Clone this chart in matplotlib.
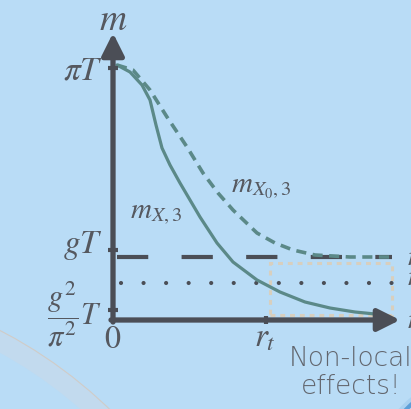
import matplotlib.pyplot as plt
from matplotlib.patches import Circle, Rectangle

plt.rcParams['mathtext.fontset'] = 'stix'

# schematic mass profiles m(r); origin of the axes at (0, 0)
r_x3 = [4, 17, 29, 37, 43, 49, 57, 67, 87, 104, 120, 144, 167, 192, 217, 242, 272]
m_x3 = [255, 248, 235, 220, 195, 172, 155, 137, 103, 77, 58, 40, 28, 18, 12, 8, 5]
r_x03 = [4, 20, 37, 54, 74, 90, 105, 120, 144, 162, 180, 202, 237, 279]
m_x03 = [255, 250, 230, 203, 173, 147, 127, 110, 87, 77, 70, 65, 63, 63]

# reference levels and tick positions
level_gT = 63
level_g2T = 37
tick_m = [252, 70, 10]
tick_labels = [r'$\pi T$', r'$gT$', r'$\dfrac{g^2}{\pi^2}T$']
r_t = 153
r_end = 279

bg = '#b9dcf6'
axis_col = '#4b4e56'
curve_col = '#5b8988'
text_col = '#55585f'

fig = plt.figure(figsize=(4.11, 4.09), dpi=100, facecolor=bg)
ax = fig.add_axes([0, 0, 1, 1])
ax.set_xlim(-113, 298)
ax.set_ylim(-89, 320)
ax.set_facecolor(bg)
ax.axis('off')

# faint ring in the lower left and blue ring in the lower right corner
ax.add_patch(Circle((-328, -425), 457, fill=False, lw=14, ec='#c2daee', zorder=0))
ax.add_patch(Circle((-328, -425), 467, fill=False, lw=0.8, ec='#d6c8bc', alpha=0.8, zorder=0))
ax.add_patch(Circle((357, -150), 92, fill=False, lw=2.5, ec='#a9d1f0', zorder=0))
ax.add_patch(Circle((357, -150), 88, fill=False, lw=3, ec='#5d9fd8', zorder=0))

# region of non-local effects
ax.add_patch(Rectangle((r_t + 4, 5), r_end - r_t - 4, 52, fill=False, lw=2.2,
                       ec='#d8cfbe', ls=(0, (1.6, 1.6)), zorder=1))

# horizontal reference levels
ax.plot([4, r_end], [level_gT, level_gT], color=axis_col, lw=3,
        ls=(0, (7.5, 8)), zorder=2)
ax.plot([8, r_end], [level_g2T, level_g2T], color=axis_col, lw=3,
        ls=(0, (0.01, 5.4)), dash_capstyle='round', zorder=2)

# mass curves
ax.plot(r_x3, m_x3, color=curve_col, lw=2.3, solid_capstyle='round', zorder=3)
ax.plot(r_x03, m_x03, color=curve_col, lw=2.6, ls=(0, (2.8, 1.8)), zorder=3)

# axes with arrow heads
arrow = dict(arrowstyle='-|>,head_length=0.9,head_width=0.45', lw=3.8,
             color=axis_col, shrinkA=0, shrinkB=0, mutation_scale=15)
ax.annotate('', xy=(0, 287), xytext=(0, -2), arrowprops=arrow, zorder=4)
ax.annotate('', xy=(287, 0), xytext=(-2, 0), arrowprops=arrow, zorder=4)

# tick marks
for m in tick_m:
    ax.plot([-5, 5], [m, m], color=axis_col, lw=3, solid_capstyle='butt', zorder=5)
ax.plot([r_t, r_t], [-4, 4], color=axis_col, lw=3, solid_capstyle='butt', zorder=5)

# labels
ax.text(0, 300, r'$m$', fontsize=27, color=text_col, ha='center', va='center')
ax.text(-10, 250, tick_labels[0], fontsize=24, color=text_col, ha='right', va='center')
ax.text(-10, 75, tick_labels[1], fontsize=24, color=text_col, ha='right', va='center')
ax.text(-11, 6, tick_labels[2], fontsize=22, color=text_col, ha='right', va='center')
ax.text(0, -19, r'$0$', fontsize=23, color=text_col, ha='center', va='center')
ax.text(r_t - 1, -17, r'$r_t$', fontsize=24, color=text_col, ha='center', va='center')
ax.text(17, 107, r'$m_{X,3}$', fontsize=21, color=text_col, ha='left', va='center')
ax.text(118, 133, r'$m_{X_0,3}$', fontsize=21, color=text_col, ha='left', va='center')
for m in [level_gT, level_g2T + 6, 0]:
    ax.text(294, m, r'$m$', fontsize=21, color=text_col, ha='left', va='center')

ax.text(238, -52, 'Non-local\neffects!', fontsize=19, color='#62666e',
        family='DejaVu Sans', fontweight='light', ha='center', va='center',
        linespacing=1.15)

fig.savefig('out.png', dpi=100, facecolor=bg)
